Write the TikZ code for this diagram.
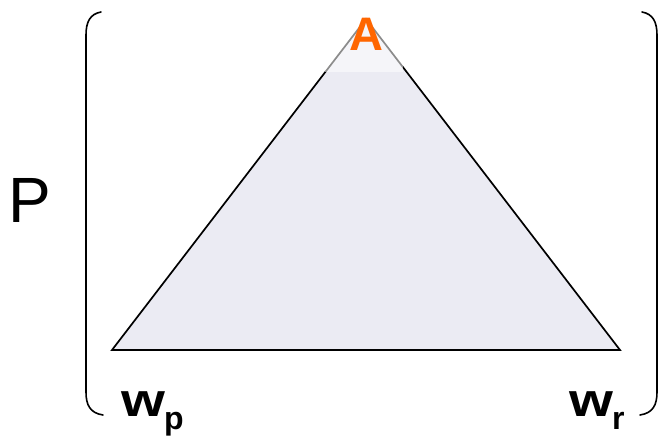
\documentclass[tikz,border=0pt]{standalone}
\usepackage{fontspec}
\setmainfont{Liberation Sans}
\definecolor{trifill}{HTML}{EBEBF3}
\definecolor{aorange}{HTML}{FF6600}
\newcommand{\wlabel}[1]{\scalebox{1.2}[1]{w}\kern-1pt\raisebox{-12.5pt}{\fontsize{32}{32}\selectfont #1}}
\begin{document}
\begin{tikzpicture}[x=1pt,y=-1pt,
  bracket/.style={line width=1.6pt, line cap=round},
  edge/.style={line width=1.7pt, line join=miter},
  lbl/.style={inner sep=0pt, anchor=base west}]
\useasboundingbox (0,0) rectangle (662,438);
\coordinate (apex) at (366,19);
\coordinate (bl) at (112,350);
\coordinate (br) at (620,350);
\fill[trifill] (apex) -- (bl) -- (br) -- cycle;
\draw[edge] (apex) -- (bl) -- (br) -- cycle;
\fill[white, opacity=0.55] (325,0) rectangle (403,72);
\node[font=\bfseries\fontsize{47}{47}\selectfont, text=aorange, inner sep=0pt, anchor=base] (A) at (366,51) {A};
\node[lbl, font=\fontsize{64}{64}\selectfont] (P) at (8,223) {P};
\draw[bracket] (101,12) .. controls (90,14) and (86,22) .. (86,35) -- (86,392) .. controls (86,405) and (90,413) .. (103,415);
\draw[bracket] (642,12) .. controls (653,14) and (657,22) .. (657,35) -- (657,392) .. controls (657,405) and (653,413) .. (640,415);
\node[lbl, font=\bfseries\fontsize{47}{47}\selectfont] (wp) at (121,417) {\wlabel{p}};
\node[lbl, font=\bfseries\fontsize{47}{47}\selectfont] (wr) at (569,417) {\wlabel{r}};
\end{tikzpicture}
\end{document}
